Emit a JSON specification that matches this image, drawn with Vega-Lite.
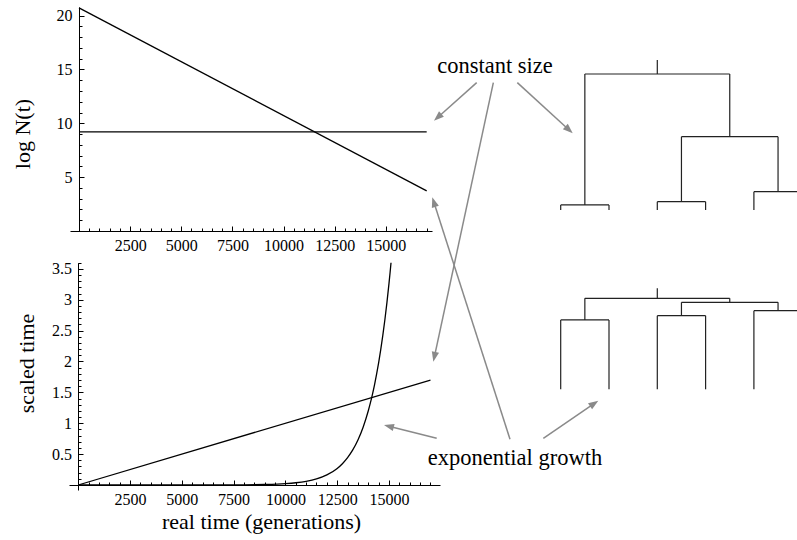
{
  "$schema": "https://vega.github.io/schema/vega-lite/v6.json",
  "width": 797,
  "height": 540,
  "autosize": "none",
  "padding": 0,
  "background": "white",
  "config": {
    "view": {"stroke": null},
    "axis": {
      "labelFont": "Liberation Serif",
      "labelFontSize": 16,
      "labelColor": "#000",
      "titleFont": "Liberation Serif",
      "titleFontSize": 22,
      "titleFontWeight": "normal",
      "titleColor": "#000",
      "domainColor": "#000",
      "domainWidth": 1,
      "tickColor": "#000",
      "tickWidth": 1,
      "grid": false,
      "labelOverlap": false,
      "labelFlush": false
    }
  },
  "datasets": {
    "top": [
      {"series": "constant size", "t": 0, "logN": 9.21},
      {"series": "constant size", "t": 17000, "logN": 9.21},
      {"series": "exponential growth", "t": 0, "logN": 20.72},
      {"series": "exponential growth", "t": 17000, "logN": 3.72}
    ],
    "bottom": [
      {"series": "constant size", "t": 0, "tau": 0},
      {"series": "constant size", "t": 17000, "tau": 1.7},
      {"series": "exponential growth", "t": 0, "tau": 0},
      {"series": "exponential growth", "t": 4000, "tau": 0.0001},
      {"series": "exponential growth", "t": 6000, "tau": 0.0004},
      {"series": "exponential growth", "t": 8000, "tau": 0.003},
      {"series": "exponential growth", "t": 9000, "tau": 0.0081},
      {"series": "exponential growth", "t": 10000, "tau": 0.022},
      {"series": "exponential growth", "t": 10500, "tau": 0.0363},
      {"series": "exponential growth", "t": 11000, "tau": 0.0599},
      {"series": "exponential growth", "t": 11500, "tau": 0.0987},
      {"series": "exponential growth", "t": 12000, "tau": 0.1628},
      {"series": "exponential growth", "t": 12500, "tau": 0.2683},
      {"series": "exponential growth", "t": 12750, "tau": 0.3446},
      {"series": "exponential growth", "t": 13000, "tau": 0.4424},
      {"series": "exponential growth", "t": 13250, "tau": 0.5681},
      {"series": "exponential growth", "t": 13500, "tau": 0.7294},
      {"series": "exponential growth", "t": 13750, "tau": 0.9366},
      {"series": "exponential growth", "t": 14000, "tau": 1.2026},
      {"series": "exponential growth", "t": 14100, "tau": 1.329},
      {"series": "exponential growth", "t": 14200, "tau": 1.4689},
      {"series": "exponential growth", "t": 14300, "tau": 1.6233},
      {"series": "exponential growth", "t": 14400, "tau": 1.7941},
      {"series": "exponential growth", "t": 14500, "tau": 1.9828},
      {"series": "exponential growth", "t": 14600, "tau": 2.1913},
      {"series": "exponential growth", "t": 14700, "tau": 2.4217},
      {"series": "exponential growth", "t": 14800, "tau": 2.6764},
      {"series": "exponential growth", "t": 14900, "tau": 2.9579},
      {"series": "exponential growth", "t": 15000, "tau": 3.269},
      {"series": "exponential growth", "t": 15050, "tau": 3.4366},
      {"series": "exponential growth", "t": 15096, "tau": 3.6}
    ],
    "trees": [
      {"tree": "constant", "x1": 3.0, "x2": 3.0, "h1": 1.0, "h2": 1.103},
      {"tree": "constant", "x1": 1.5, "x2": 4.5, "h1": 1.0, "h2": 1.0},
      {"tree": "constant", "x1": 1.5, "x2": 1.5, "h1": 0.037, "h2": 1.0},
      {"tree": "constant", "x1": 1, "x2": 2, "h1": 0.037, "h2": 0.037},
      {"tree": "constant", "x1": 1, "x2": 1, "h1": 0, "h2": 0.037},
      {"tree": "constant", "x1": 2, "x2": 2, "h1": 0, "h2": 0.037},
      {"tree": "constant", "x1": 4.5, "x2": 4.5, "h1": 0.539, "h2": 1.0},
      {"tree": "constant", "x1": 3.5, "x2": 5.5, "h1": 0.539, "h2": 0.539},
      {"tree": "constant", "x1": 3.5, "x2": 3.5, "h1": 0.061, "h2": 0.539},
      {"tree": "constant", "x1": 3, "x2": 4, "h1": 0.061, "h2": 0.061},
      {"tree": "constant", "x1": 3, "x2": 3, "h1": 0, "h2": 0.061},
      {"tree": "constant", "x1": 4, "x2": 4, "h1": 0, "h2": 0.061},
      {"tree": "constant", "x1": 5.5, "x2": 5.5, "h1": 0.135, "h2": 0.539},
      {"tree": "constant", "x1": 5, "x2": 6, "h1": 0.135, "h2": 0.135},
      {"tree": "constant", "x1": 5, "x2": 5, "h1": 0, "h2": 0.135},
      {"tree": "constant", "x1": 6, "x2": 6, "h1": 0, "h2": 0.135},
      {"tree": "growth", "x1": 3.0, "x2": 3.0, "h1": 1.0, "h2": 1.11},
      {"tree": "growth", "x1": 1.5, "x2": 4.5, "h1": 1.0, "h2": 1.0},
      {"tree": "growth", "x1": 1.5, "x2": 1.5, "h1": 0.762, "h2": 1.0},
      {"tree": "growth", "x1": 1, "x2": 2, "h1": 0.762, "h2": 0.762},
      {"tree": "growth", "x1": 1, "x2": 1, "h1": 0, "h2": 0.762},
      {"tree": "growth", "x1": 2, "x2": 2, "h1": 0, "h2": 0.762},
      {"tree": "growth", "x1": 4.5, "x2": 4.5, "h1": 0.956, "h2": 1.0},
      {"tree": "growth", "x1": 3.5, "x2": 5.5, "h1": 0.956, "h2": 0.956},
      {"tree": "growth", "x1": 3.5, "x2": 3.5, "h1": 0.809, "h2": 0.956},
      {"tree": "growth", "x1": 3, "x2": 4, "h1": 0.809, "h2": 0.809},
      {"tree": "growth", "x1": 3, "x2": 3, "h1": 0, "h2": 0.809},
      {"tree": "growth", "x1": 4, "x2": 4, "h1": 0, "h2": 0.809},
      {"tree": "growth", "x1": 5.5, "x2": 5.5, "h1": 0.864, "h2": 0.956},
      {"tree": "growth", "x1": 5, "x2": 6, "h1": 0.864, "h2": 0.864},
      {"tree": "growth", "x1": 5, "x2": 5, "h1": 0, "h2": 0.864},
      {"tree": "growth", "x1": 6, "x2": 6, "h1": 0, "h2": 0.864}
    ],
    "arrows": [
      {"from": "constant size", "fx": 0.5981, "fy": 0.8469, "fx2": 0.5502, "fy2": 0.7839},
      {"from": "constant size", "fx": 0.6190, "fy": 0.8469, "fx2": 0.5453, "fy2": 0.3411},
      {"from": "constant size", "fx": 0.6491, "fy": 0.8469, "fx2": 0.7130, "fy2": 0.7606},
      {"from": "exponential growth", "fx": 0.6399, "fy": 0.1865, "fx2": 0.5447, "fy2": 0.6241},
      {"from": "exponential growth", "fx": 0.5479, "fy": 0.1883, "fx2": 0.4891, "fy2": 0.2102},
      {"from": "exponential growth", "fx": 0.6817, "fy": 0.1883, "fx2": 0.7444, "fy2": 0.2517}
    ],
    "heads": [
      {"from": "constant size", "fx": 0.5445, "fy": 0.7765, "angle": 228.3},
      {"from": "constant size", "fx": 0.5437, "fy": 0.3302, "angle": 192.1},
      {"from": "constant size", "fx": 0.7186, "fy": 0.7531, "angle": 132.4},
      {"from": "exponential growth", "fx": 0.5424, "fy": 0.6346, "angle": 342.2},
      {"from": "exponential growth", "fx": 0.4818, "fy": 0.2130, "angle": 284.2},
      {"from": "exponential growth", "fx": 0.7507, "fy": 0.2580, "angle": 55.6}
    ],
    "labels": [
      {"label": "constant size", "fx": 0.6211, "fy": 0.8654},
      {"label": "exponential growth", "fx": 0.6462, "fy": 0.1389}
    ]
  },
  "resolve": {
    "scale": {"x": "independent", "y": "independent"},
    "axis": {"x": "independent", "y": "independent"}
  },
  "layer": [
    {
      "data": {"name": "top"},
      "mark": {"type": "line", "color": "#000", "strokeWidth": 1.3},
      "encoding": {
        "x": {"field": "t", "type": "quantitative",
          "scale": {"domain": [-440, 17260], "range": [70, 432], "nice": false, "zero": false},
          "axis": {"orient": "bottom", "offset": -309, "values": [2500, 5000, 7500, 10000, 12500, 15000], "format": "d", "tickSize": -5, "labelPadding": 11.5, "title": null}},
        "y": {"field": "logN", "type": "quantitative",
          "scale": {"domain": [0, 20.8], "range": [231, 7], "nice": false, "zero": false},
          "axis": {"orient": "left", "offset": -79, "values": [5, 10, 15, 20], "format": "d", "tickSize": -5, "labelPadding": 12,
            "title": "log N(t)", "titleX": -50, "titleY": 133.5, "titleAngle": 270, "titleAlign": "center", "titleBaseline": "alphabetic"}},
        "detail": {"field": "series"}
      }
    },
    {
      "data": {"name": "top"},
      "mark": {"type": "line", "opacity": 0},
      "encoding": {
        "x": {"field": "t", "type": "quantitative",
          "scale": {"domain": [-440, 17260], "range": [70, 432], "nice": false, "zero": false},
          "axis": {"orient": "bottom", "offset": -309, "values": [500, 1000, 1500, 2000, 3000, 3500, 4000, 4500, 5500, 6000, 6500, 7000, 8000, 8500, 9000, 9500, 10500, 11000, 11500, 12000, 13000, 13500, 14000, 14500, 15500, 16000, 16500, 17000], "tickSize": -3, "labels": false, "domain": false, "title": null}},
        "y": {"field": "logN", "type": "quantitative",
          "scale": {"domain": [0, 20.8], "range": [231, 7], "nice": false, "zero": false},
          "axis": {"orient": "left", "offset": -79, "values": [1, 2, 3, 4, 6, 7, 8, 9, 11, 12, 13, 14, 16, 17, 18, 19], "tickSize": -3, "labels": false, "domain": false, "title": null}},
        "detail": {"field": "series"}
      }
    },
    {
      "data": {"name": "bottom"},
      "mark": {"type": "line", "color": "#000", "strokeWidth": 1.3, "interpolate": "monotone"},
      "encoding": {
        "x": {"field": "t", "type": "quantitative",
          "scale": {"domain": [-444, 17460], "range": [69, 440], "nice": false, "zero": false},
          "axis": {"orient": "bottom", "offset": -55, "values": [2500, 5000, 7500, 10000, 12500, 15000], "format": "d", "tickSize": -5, "labelPadding": 11.5,
            "title": "real time (generations)", "titleX": 261, "titleY": 43, "titleAngle": 0, "titleAlign": "center", "titleBaseline": "alphabetic"}},
        "y": {"field": "tau", "type": "quantitative",
          "scale": {"domain": [-0.081, 3.6], "range": [490, 262.7], "nice": false, "zero": false},
          "axis": {"orient": "left", "offset": -78, "values": [0.5, 1, 1.5, 2, 2.5, 3, 3.5], "format": "~g", "tickSize": -5, "labelPadding": 11.5,
            "title": "scaled time", "titleX": -45, "titleY": 363, "titleAngle": 270, "titleAlign": "center", "titleBaseline": "alphabetic"}},
        "detail": {"field": "series"}
      }
    },
    {
      "data": {"name": "bottom"},
      "mark": {"type": "line", "opacity": 0},
      "encoding": {
        "x": {"field": "t", "type": "quantitative",
          "scale": {"domain": [-444, 17460], "range": [69, 440], "nice": false, "zero": false},
          "axis": {"orient": "bottom", "offset": -55, "values": [500, 1000, 1500, 2000, 3000, 3500, 4000, 4500, 5500, 6000, 6500, 7000, 8000, 8500, 9000, 9500, 10500, 11000, 11500, 12000, 13000, 13500, 14000, 14500, 15500, 16000, 16500, 17000], "tickSize": -3, "labels": false, "domain": false, "title": null}},
        "y": {"field": "tau", "type": "quantitative",
          "scale": {"domain": [-0.081, 3.6], "range": [490, 262.7], "nice": false, "zero": false},
          "axis": {"orient": "left", "offset": -78, "values": [0.1, 0.2, 0.3, 0.4, 0.6, 0.7, 0.8, 0.9, 1.1, 1.2, 1.3, 1.4, 1.6, 1.7, 1.8, 1.9, 2.1, 2.2, 2.3, 2.4, 2.6, 2.7, 2.8, 2.9, 3.1, 3.2, 3.3, 3.4, 3.6], "tickSize": -3, "labels": false, "domain": false, "title": null}},
        "detail": {"field": "series"}
      }
    },
    {
      "data": {"name": "trees"},
      "transform": [{"filter": "datum.tree === 'constant'"}],
      "mark": {"type": "rule", "color": "#222", "strokeWidth": 1.2},
      "encoding": {
        "x": {"field": "x1", "type": "quantitative", "scale": {"domain": [1, 6], "range": [560.7, 802.2], "nice": false, "zero": false}, "axis": null},
        "x2": {"field": "x2"},
        "y": {"field": "h1", "type": "quantitative", "scale": {"domain": [0, 1], "range": [210, 74], "nice": false, "zero": false}, "axis": null},
        "y2": {"field": "h2"}
      }
    },
    {
      "data": {"name": "trees"},
      "transform": [{"filter": "datum.tree === 'growth'"}],
      "mark": {"type": "rule", "color": "#222", "strokeWidth": 1.2},
      "encoding": {
        "x": {"field": "x1", "type": "quantitative", "scale": {"domain": [1, 6], "range": [560.7, 802.2], "nice": false, "zero": false}, "axis": null},
        "x2": {"field": "x2"},
        "y": {"field": "h1", "type": "quantitative", "scale": {"domain": [0, 1], "range": [389.3, 298.3], "nice": false, "zero": false}, "axis": null},
        "y2": {"field": "h2"}
      }
    },
    {
      "data": {"name": "arrows"},
      "mark": {"type": "rule", "color": "#8a8a8a", "strokeWidth": 1.5},
      "encoding": {
        "x": {"field": "fx", "type": "quantitative", "scale": {"domain": [0, 1], "range": [0, 797], "nice": false, "zero": false}, "axis": null},
        "x2": {"field": "fx2"},
        "y": {"field": "fy", "type": "quantitative", "scale": {"domain": [0, 1], "range": [540, 0], "nice": false, "zero": false}, "axis": null},
        "y2": {"field": "fy2"}
      }
    },
    {
      "data": {"name": "heads"},
      "mark": {"type": "point", "shape": "M0,0L0.55,1.5L-0.55,1.5Z", "filled": true, "color": "#8a8a8a", "opacity": 1, "size": 178, "strokeWidth": 0},
      "encoding": {
        "x": {"field": "fx", "type": "quantitative", "scale": {"domain": [0, 1], "range": [0, 797], "nice": false, "zero": false}, "axis": null},
        "y": {"field": "fy", "type": "quantitative", "scale": {"domain": [0, 1], "range": [540, 0], "nice": false, "zero": false}, "axis": null},
        "angle": {"field": "angle", "type": "quantitative", "scale": null}
      }
    },
    {
      "data": {"name": "labels"},
      "mark": {"type": "text", "font": "Liberation Serif", "fontSize": 22.5, "color": "#000", "align": "center", "baseline": "alphabetic"},
      "encoding": {
        "x": {"field": "fx", "type": "quantitative", "scale": {"domain": [0, 1], "range": [0, 797], "nice": false, "zero": false}, "axis": null},
        "y": {"field": "fy", "type": "quantitative", "scale": {"domain": [0, 1], "range": [540, 0], "nice": false, "zero": false}, "axis": null},
        "text": {"field": "label"}
      }
    }
  ]
}
